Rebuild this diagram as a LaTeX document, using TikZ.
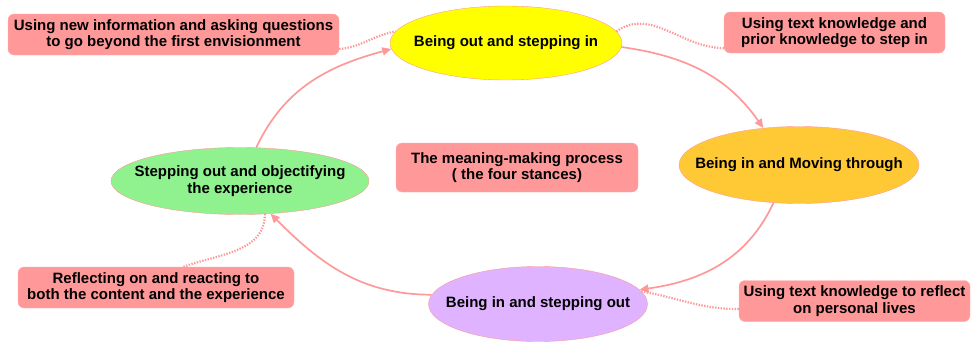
\documentclass[tikz,border=0pt]{standalone}
\usepackage{fontspec}
\setmainfont{Liberation Sans}
\usetikzlibrary{shapes.geometric, arrows.meta}
\definecolor{salmon}{HTML}{FF9999}
\definecolor{stanceyellow}{HTML}{FFFF00}
\definecolor{stanceorange}{HTML}{FFC936}
\definecolor{stancepurple}{HTML}{DFB3FF}
\definecolor{stancegreen}{HTML}{8FF28F}

\begin{document}
\begin{tikzpicture}[x=1pt, y=1pt,
  stance/.style={ellipse, draw=salmon, inner sep=0pt},
  note/.style={rectangle, rounded corners=6pt, fill=salmon, draw=salmon!80, inner sep=0pt,
    font=\bfseries\fontsize{15}{16.5}\selectfont, align=center},
  every label/.style={font=\bfseries\fontsize{15}{16.5}\selectfont, align=center},
  flow/.style={draw=salmon, line width=1.7pt, -{Triangle[length=9pt,width=8pt]}},
  link/.style={draw=salmon, line width=2.2pt, dash pattern=on 1.4pt off 1.4pt}]
\useasboundingbox (0,0) rectangle (972,-343);

% the four stances
\node[stance, fill=stanceyellow, minimum width=232, minimum height=74,
  label={center:Being out and stepping in}] (outin) at (506,-43) {};
\node[stance, fill=stanceorange, minimum width=240, minimum height=77,
  label={center:Being in and Moving through}] (through) at (799,-165) {};
\node[stance, fill=stancepurple, minimum width=219, minimum height=75,
  label={center:Being in and stepping out}] (inout) at (538,-304) {};
\node[stance, fill=stancegreen, minimum width=258, minimum height=67,
  label={center:Stepping out and objectifying\\the experience}] (objective) at (240,-181) {};

% notes
\node[note, minimum width=242, minimum height=49] (process) at (517,-167.5)
  {The meaning-making process\\( the four stances)};
\node[note, minimum width=331, minimum height=41] (newinfo) at (173.5,-34.5)
  {Using new information and asking questions\\to go beyond the first envisionment};
\node[note, minimum width=221, minimum height=41] (priorknow) at (834.5,-32.5)
  {Using text knowledge and\\prior knowledge to step in};
\node[note, minimum width=231, minimum height=41] (personal) at (854.5,-301)
  {Using text knowledge to reflect\\on personal lives};
\node[note, minimum width=276, minimum height=41] (reflect) at (156,-287.5)
  {Reflecting on and reacting to\\both the content and the experience};

% cycle
\draw[flow] (outin.-2) to[out=-8, in=125] (through.134);
\draw[flow] (through.-124) to[out=-115, in=8] (inout.8);
\draw[flow] (inout.175) to[out=180, in=-45] (objective.-47);
\draw[flow] (objective.64) to[out=65, in=195] (outin.183);

% dotted links
\draw[link] (newinfo.-5) to[out=5, in=190] (outin.174);
\draw[link] (outin.6) to[out=35, in=180] (priorknow.188);
\draw[link] (inout.7) to[out=-10, in=180] (personal.184);
\draw[link] (reflect.37) to[out=20, in=-90] (objective.-53);
\end{tikzpicture}
\end{document}
